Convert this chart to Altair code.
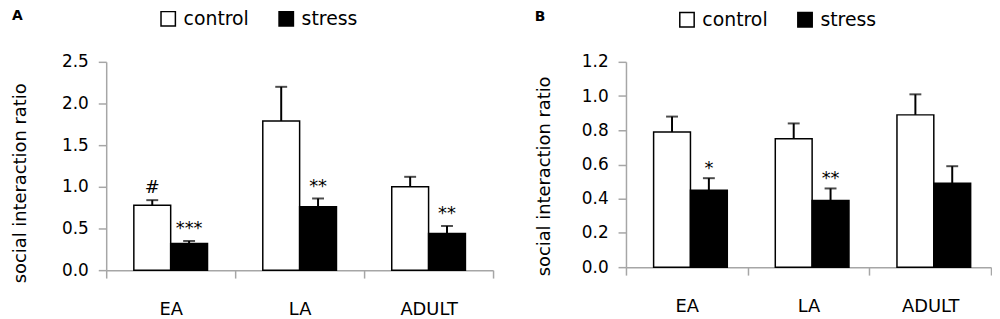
import altair as alt
import pandas as pd

groups = ["EA", "LA", "ADULT"]
series = ["control", "stress"]

a_control = [0.78, 1.79, 1.00]
a_control_err = [0.06, 0.41, 0.12]
a_stress = [0.32, 0.76, 0.44]
a_stress_err = [0.03, 0.10, 0.09]
a_control_ann = ["#", "", ""]
a_stress_ann = ["***", "**", "**"]

b_control = [0.79, 0.75, 0.89]
b_control_err = [0.09, 0.09, 0.12]
b_stress = [0.45, 0.39, 0.49]
b_stress_err = [0.07, 0.07, 0.10]
b_control_ann = ["", "", ""]
b_stress_ann = ["*", "**", ""]

a_ticks = [0.0, 0.5, 1.0, 1.5, 2.0, 2.5]
b_ticks = [0.0, 0.2, 0.4, 0.6, 0.8, 1.0, 1.2]

FONT = "DejaVu Sans"
GRAY = "#a6a6a6"


def make_df(ctrl, ctrl_err, st, st_err, ctrl_ann, st_ann):
    rows = []
    for i, g in enumerate(groups):
        rows.append(dict(group=g, series="control", value=ctrl[i], top=ctrl[i] + ctrl_err[i], ann=ctrl_ann[i]))
        rows.append(dict(group=g, series="stress", value=st[i], top=st[i] + st_err[i], ann=st_ann[i]))
    return pd.DataFrame(rows)


def panel(df, letter, ymax, ticks, w, h, legend_x, legend_y, letter_pad, title_y, title_pad, ann_dy):
    x = alt.X("group:N", sort=groups, title=None,
              scale=alt.Scale(paddingInner=0, paddingOuter=0),
              axis=alt.Axis(labelAngle=0, tickBand="extent", tickSize=8, tickColor=GRAY,
                            domainColor=GRAY, labelFontSize=18, labelFont=FONT,
                            labelColor="black", labelPadding=23, grid=False, tickWidth=1.5,
                            domainWidth=1.5))
    xo = alt.XOffset("series:N", sort=series, scale=alt.Scale(paddingInner=0, paddingOuter=0.75))
    y_scale = alt.Scale(domain=[0, ymax], nice=False)
    y_axis = alt.Axis(values=ticks, format=".1f", tickSize=8, tickColor=GRAY, domainColor=GRAY,
                      labelFontSize=17, labelFont=FONT, labelColor="black", labelPadding=10,
                      labelOverlap=False, tickCount=len(ticks),
                      title="social interaction ratio", titleFont=FONT, titleFontSize=18,
                      titleFontWeight="normal", titleColor="black", titlePadding=title_pad,
                      titleY=title_y, grid=False, tickWidth=1.5, domainWidth=1.5)
    base = alt.Chart(df).encode(x=x, xOffset=xo)
    bars = base.mark_bar(stroke="black", strokeWidth=1.5).encode(
        y=alt.Y("value:Q", scale=y_scale, axis=y_axis),
        fill=alt.Fill("series:N", sort=series,
                      scale=alt.Scale(domain=series, range=["white", "black"]),
                      legend=alt.Legend(orient="none", legendX=legend_x, legendY=legend_y,
                                        direction="horizontal", title=letter,
                                        titleOrient="left", titlePadding=letter_pad,
                                        titleFont=FONT, titleFontSize=14, titleFontWeight="bold",
                                        titleColor="black", titleBaseline="top",
                                        titleAnchor="start",
                                        symbolType="square",
                                        symbolSize=210, symbolStrokeColor="black",
                                        symbolStrokeWidth=1.5, labelFontSize=19, labelFont=FONT,
                                        labelColor="black", columnPadding=27, labelOffset=6)),
    )
    rules = base.mark_rule(color="black", strokeWidth=2).encode(
        y=alt.Y("value:Q", scale=y_scale, axis=y_axis), y2="top:Q")
    caps = base.mark_tick(color="black", thickness=2, size=12).encode(
        y=alt.Y("top:Q", scale=y_scale, axis=y_axis))
    texts = base.mark_text(font=FONT, fontSize=18, color="black", baseline="alphabetic",
                           dy=ann_dy).encode(y=alt.Y("top:Q", scale=y_scale, axis=y_axis),
                                             text="ann:N")
    return alt.layer(bars, rules, caps, texts).properties(width=w, height=h)


df_a = make_df(a_control, a_control_err, a_stress, a_stress_err, a_control_ann, a_stress_ann)
df_b = make_df(b_control, b_control_err, b_stress, b_stress_err, b_control_ann, b_stress_ann)

pa = panel(df_a, "A", 2.5, a_ticks, 390, 210, -95, -53, 137, 122, 32, -7)
pb = panel(df_b, "B", 1.2, b_ticks, 368, 207, -92, -52, 133, 115, 28, -4)

chart = alt.hconcat(pa, pb, spacing=41).resolve_scale(fill="independent").properties(
    padding={"left": 3, "top": 0, "right": 0, "bottom": 0}
).configure_view(stroke=None)

chart.save("out.html", embed_options={"renderer": "svg", "actions": False})
